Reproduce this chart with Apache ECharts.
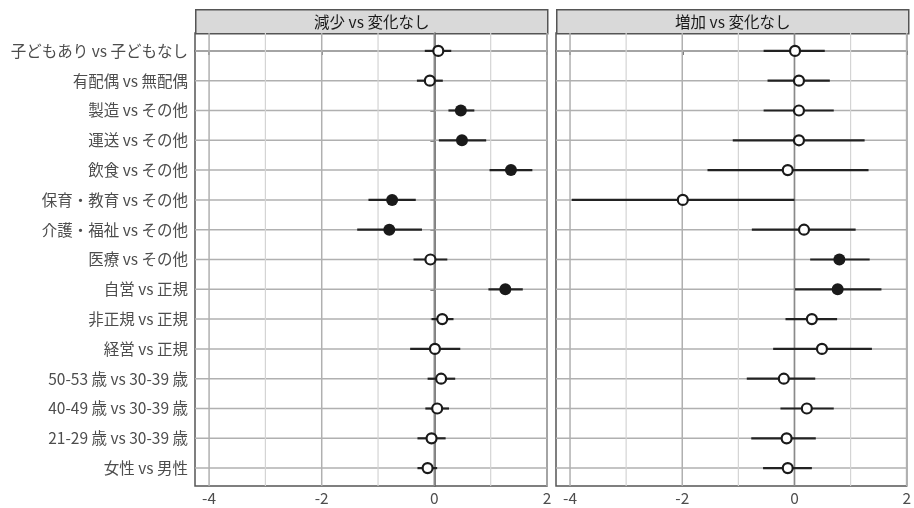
<!DOCTYPE html>
<html>
<head>
<meta charset="utf-8">
<script src="https://cdn.jsdelivr.net/npm/echarts@6/dist/echarts.min.js"></script>
<style>html,body{margin:0;padding:0;background:#fff;}#chart{width:914px;height:508px;}</style>
</head>
<body>
<div id="chart"></div>
<script>
const categories = ['子どもあり vs 子どもなし','有配偶 vs 無配偶','製造 vs その他','運送 vs その他','飲食 vs その他','保育・教育 vs その他','介護・福祉 vs その他','医療 vs その他','自営 vs 正規','非正規 vs 正規','経営 vs 正規','50-53 歳 vs 30-39 歳','40-49 歳 vs 30-39 歳','21-29 歳 vs 30-39 歳','女性 vs 男性'];
const panelTitles = ['減少 vs 変化なし','増加 vs 変化なし'];
const xTicks = [-4, -2, 0, 2];
const xMinorLines = [-3, -1, 1];

// 減少 vs 変化なし
const decEst = [0.07,-0.08,0.47,0.49,1.36,-0.75,-0.80,-0.07,1.26,0.14,0.01,0.12,0.05,-0.05,-0.12];
const decLo  = [-0.17,-0.31,0.25,0.08,0.98,-1.17,-1.37,-0.37,0.96,-0.05,-0.43,-0.12,-0.16,-0.30,-0.30];
const decHi  = [0.30,0.15,0.71,0.92,1.74,-0.33,-0.22,0.23,1.57,0.34,0.46,0.37,0.26,0.20,0.05];
const decSig = [0,0,1,1,1,1,1,0,1,0,0,0,0,0,0];

// 増加 vs 変化なし
const incEst = [0.01,0.08,0.08,0.08,-0.12,-1.99,0.17,0.80,0.77,0.31,0.49,-0.19,0.22,-0.14,-0.12];
const incLo  = [-0.55,-0.48,-0.55,-1.10,-1.55,-3.97,-0.76,0.28,0.01,-0.16,-0.38,-0.85,-0.25,-0.77,-0.56];
const incHi  = [0.54,0.63,0.70,1.25,1.32,0.00,1.09,1.34,1.55,0.76,1.38,0.37,0.70,0.38,0.31];
const incSig = [0,0,0,0,0,0,0,1,1,0,0,0,0,0,0];

const FONT = '"Noto Sans CJK JP", "Noto Sans", sans-serif';
const FS = 15.5;
const yIdx = categories.map((c, i) => i);

const grids = [
  {left: 195, top: 33, width: 352, height: 453},
  {left: 556, top: 33, width: 352, height: 453}
];

function xAxisFor(g) {
  return {
    type: 'value', gridIndex: g, min: -4.25, max: 2.0,
    axisLine: {show: true, lineStyle: {color: '#555', width: 1.5}},
    axisTick: {show: true, customValues: xTicks, length: 4, lineStyle: {color: '#555', width: 1.5}},
    axisLabel: {show: true, customValues: xTicks, color: '#4d4d4d', fontSize: FS, fontFamily: FONT, margin: 4},
    splitLine: {show: false}
  };
}
function yAxisFor(g) {
  return {
    type: 'value', gridIndex: g, min: -0.6, max: 14.6, inverse: true,
    axisLine: {show: g === 0, lineStyle: {color: '#555', width: 1.5}},
    axisTick: {show: g === 0, customValues: yIdx, length: 4, lineStyle: {color: '#555', width: 1.5}},
    axisLabel: {show: g === 0, customValues: yIdx, color: '#4d4d4d', fontSize: FS, fontFamily: FONT, margin: 7,
      formatter: v => categories[Math.round(v)] || ''},
    splitLine: {show: false}
  };
}

const GRID_STYLES = {
  minor: {stroke: '#d4d4d4', lineWidth: 1.2},
  major: {stroke: '#b0b0b0', lineWidth: 1.5},
  zero:  {stroke: '#8a8a8a', lineWidth: 1.7}
};

function makeSeries(g, est, lo, hi, sig) {
  const barData = yIdx.map(i => [lo[i], hi[i], i]);
  const openData = [], fillData = [];
  yIdx.forEach(i => { (sig[i] ? fillData : openData).push([est[i], i]); });
  const vLines = xMinorLines.map(v => [v, 0, 'minor'])
    .concat(xTicks.map(v => [v, 0, v === 0 ? 'zero' : 'major']));
  return [
    {
      type: 'custom', xAxisIndex: g, yAxisIndex: g, data: yIdx.map(v => [0, v]), z: 1, silent: true,
      renderItem: (params, api) => {
        const cs = params.coordSys;
        const p = api.coord([0, api.value(1)]);
        return {type: 'line', shape: {x1: cs.x, y1: p[1], x2: cs.x + cs.width, y2: p[1]},
          style: GRID_STYLES.major};
      }
    },
    {
      type: 'custom', xAxisIndex: g, yAxisIndex: g, data: vLines, z: 2, silent: true,
      dimensions: ['x', 'y', {name: 'kind', type: 'ordinal'}],
      renderItem: (params, api) => {
        const cs = params.coordSys;
        const item = vLines[params.dataIndex];
        const p = api.coord([item[0], 0]);
        return {type: 'line', z2: item[2] === 'minor' ? 0 : (item[2] === 'zero' ? 2 : 1),
          shape: {x1: p[0], y1: cs.y, x2: p[0], y2: cs.y + cs.height},
          style: GRID_STYLES[item[2]]};
      }
    },
    {
      type: 'custom', xAxisIndex: g, yAxisIndex: g, data: barData, z: 3,
      renderItem: (params, api) => {
        const p1 = api.coord([api.value(0), api.value(2)]);
        const p2 = api.coord([api.value(1), api.value(2)]);
        return {type: 'line', shape: {x1: p1[0], y1: p1[1], x2: p2[0], y2: p2[1]},
          style: {stroke: '#222', lineWidth: 2.2}};
      }
    },
    {
      type: 'scatter', xAxisIndex: g, yAxisIndex: g, data: openData, z: 4,
      symbol: 'circle', symbolSize: 10,
      itemStyle: {color: '#fff', borderColor: '#1a1a1a', borderWidth: 2.2, opacity: 1}
    },
    {
      type: 'scatter', xAxisIndex: g, yAxisIndex: g, data: fillData, z: 4,
      symbol: 'circle', symbolSize: 12,
      itemStyle: {color: '#1a1a1a', borderColor: '#1a1a1a', borderWidth: 0, opacity: 1}
    }
  ];
}

const chart = echarts.init(document.getElementById('chart'), null, {renderer: 'canvas'});
chart.setOption({
  animation: false,
  backgroundColor: '#fff',
  grid: grids.map(g => Object.assign({show: true, borderColor: '#555', borderWidth: 1.5, backgroundColor: '#fff', containLabel: false}, g)),
  xAxis: [xAxisFor(0), xAxisFor(1)],
  yAxis: [yAxisFor(0), yAxisFor(1)],
  series: makeSeries(0, decEst, decLo, decHi, decSig).concat(makeSeries(1, incEst, incLo, incHi, incSig)),
  graphic: grids.map((g, i) => ({
    type: 'group', left: g.left, top: 9,
    children: [
      {type: 'rect', shape: {x: 0, y: 0, width: g.width, height: 24},
        style: {fill: '#d9d9d9', stroke: '#555', lineWidth: 1.5}},
      {type: 'text', x: g.width / 2, y: 12,
        style: {text: panelTitles[i], fill: '#1a1a1a', font: FS + 'px ' + FONT, align: 'center', verticalAlign: 'middle'}}
    ]
  }))
});
</script>
</body>
</html>
